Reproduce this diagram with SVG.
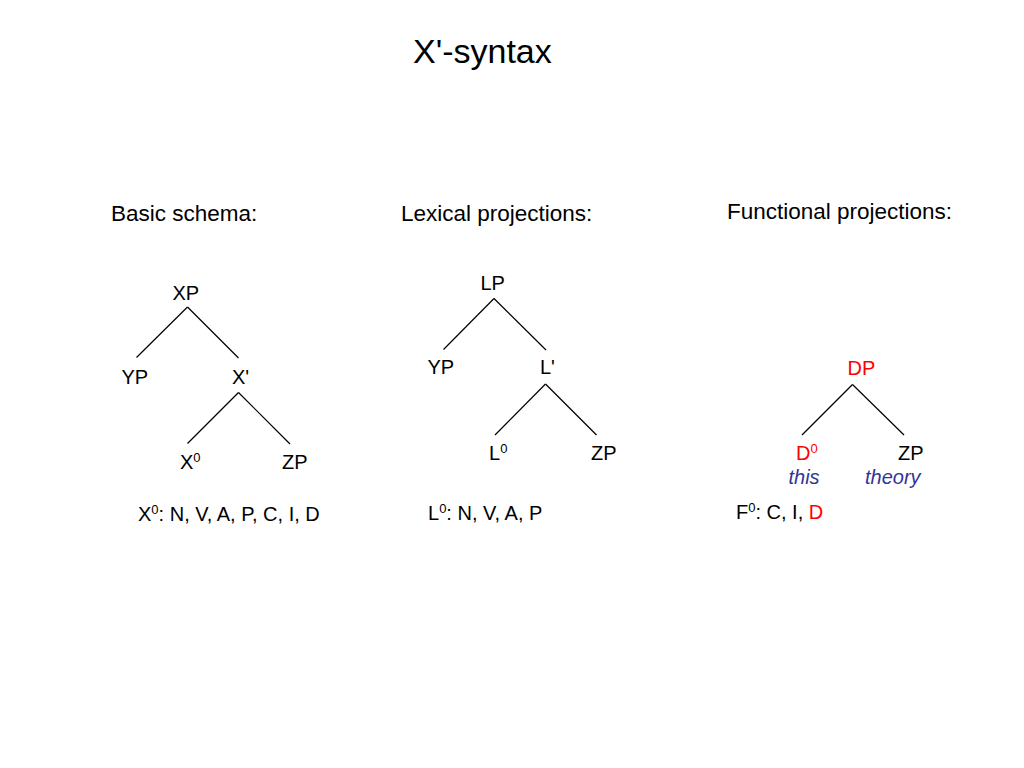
<svg xmlns="http://www.w3.org/2000/svg" width="1024" height="768" viewBox="0 0 1024 768">
<style>
text{font-family:"Liberation Sans",Arial,sans-serif;fill:#000;}
.t{font-size:34px;}
.h{font-size:22.5px;}
.n{font-size:20px;}
.sup{font-size:13px;}
.red{fill:#ff0000;}
.blue{fill:#333399;font-style:italic;}
.edge{stroke:#000;stroke-width:1.2;fill:none;}
</style>
<rect width="1024" height="768" fill="#fff"/>
<text class="t" x="413" y="63">X'-syntax</text>
<text class="h" x="111" y="221">Basic schema:</text>
<text class="h" x="401" y="221">Lexical projections:</text>
<text class="h" x="727" y="219">Functional projections:</text>

<g id="connectors">
<line class="edge" x1="187.5" y1="307" x2="136.5" y2="357.5"/>
<line class="edge" x1="187.5" y1="307" x2="238.5" y2="358"/>
<line class="edge" x1="238.5" y1="392.5" x2="187.5" y2="443.5"/>
<line class="edge" x1="238.5" y1="392.5" x2="290" y2="444"/>
<line class="edge" x1="494" y1="298.5" x2="443.5" y2="349.5"/>
<line class="edge" x1="494" y1="298.5" x2="546" y2="350"/>
<line class="edge" x1="545.5" y1="384" x2="495" y2="435"/>
<line class="edge" x1="545.5" y1="384" x2="596.5" y2="435"/>
<line class="edge" x1="852.5" y1="384.5" x2="802" y2="435"/>
<line class="edge" x1="852.5" y1="384.5" x2="904" y2="435"/>
</g>

<g id="basic-XP"><text class="n" x="172.5" y="299.5">XP</text></g>
<g id="basic-YP"><text class="n" x="121.5" y="383.5">YP</text></g>
<g id="basic-Xbar"><text class="n" x="232" y="383.5">X'</text></g>
<g id="basic-X0"><text class="n" x="180" y="468.5">X<tspan class="sup" dy="-7">0</tspan></text></g>
<g id="basic-ZP"><text class="n" x="282" y="468.5">ZP</text></g>
<g id="basic-note"><text class="n" x="138" y="520.5">X<tspan class="sup" dy="-7">0</tspan><tspan dy="7">: N, V, A, P, C, I, D</tspan></text></g>

<g id="lex-LP"><text class="n" x="480.5" y="289.5">LP</text></g>
<g id="lex-YP"><text class="n" x="427.5" y="374">YP</text></g>
<g id="lex-Lbar"><text class="n" x="540" y="374">L'</text></g>
<g id="lex-L0"><text class="n" x="489" y="459.5">L<tspan class="sup" dy="-7">0</tspan></text></g>
<g id="lex-ZP"><text class="n" x="591" y="459.5">ZP</text></g>
<g id="lex-note"><text class="n" x="428" y="520">L<tspan class="sup" dy="-7">0</tspan><tspan dy="7">: N, V, A, P</tspan></text></g>

<g id="fun-DP"><text class="n red" x="847.5" y="375">DP</text></g>
<g id="fun-D0"><text class="n red" x="796" y="460">D<tspan class="sup" dy="-7">0</tspan></text><text class="n blue" x="788.5" y="484">this</text></g>
<g id="fun-ZP"><text class="n" x="898" y="460">ZP</text><text class="n blue" x="865" y="484">theory</text></g>
<g id="fun-note"><text class="n" x="736" y="519">F<tspan class="sup" dy="-7">0</tspan><tspan dy="7">: C, I, </tspan><tspan class="red">D</tspan></text></g>
</svg>
